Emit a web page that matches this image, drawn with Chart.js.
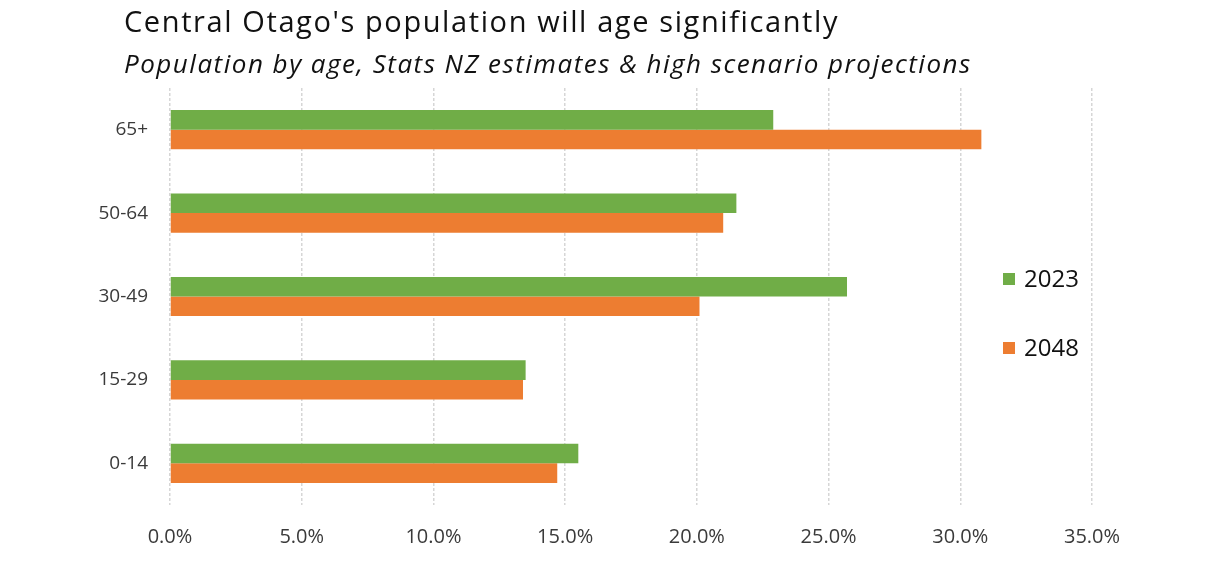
<!DOCTYPE html>
<html>
<head>
<meta charset="utf-8">
<script src="https://cdn.jsdelivr.net/npm/chart.js@4.4.0/dist/chart.umd.min.js"></script>
<style>
  html, body { margin: 0; padding: 0; background: #fff; }
  #wrap { width: 1213px; height: 562px; position: relative; }
</style>
</head>
<body>
<div id="wrap"><canvas id="barChart" width="1213" height="562"></canvas></div>
<script>
// Age groups, top to bottom as in the chart
const ageGroups = ['65+', '50-64', '30-49', '15-29', '0-14'];

// Share of population (%)
const pop2023 = [22.9, 21.5, 25.7, 13.5, 15.5];
const pop2048 = [30.8, 21.0, 20.1, 13.4, 14.7];

// x-axis tick range
const xMin = 0;
const xMax = 35;
const xStep = 5;

const titleText = "Central Otago's population will age significantly";
const subtitleText = 'Population by age, Stats NZ estimates & high scenario projections';

const GREEN = '#70AD47';
const ORANGE = '#ED7D31';
const FONT = "'Open Sans', sans-serif";

// Title, subtitle and the legend sit inside the plot like Excel does it
const overlayPlugin = {
    id: 'overlay',
    afterDraw(chart) {
        const ctx = chart.ctx;
        ctx.save();
        ctx.fillStyle = '#111';
        ctx.textBaseline = 'alphabetic';
        ctx.textAlign = 'left';
        ctx.letterSpacing = '1.6px';
        ctx.font = '29px ' + FONT;
        ctx.fillText(titleText, 124, 32);
        ctx.letterSpacing = '1.5px';
        ctx.font = 'italic 26px ' + FONT;
        ctx.fillText(subtitleText, 124, 73);
        ctx.letterSpacing = '0px';

        // legend
        const items = chart.data.datasets;
        const lx = 1003, ly = [279, 348];
        ctx.font = '24px ' + FONT;
        ctx.textBaseline = 'middle';
        items.forEach((ds, i) => {
            ctx.fillStyle = ds.backgroundColor;
            ctx.fillRect(lx, ly[i] - 6, 12, 12);
            ctx.fillStyle = '#111';
            ctx.fillText(ds.label, lx + 21, ly[i] + 1);
        });
        ctx.restore();
    }
};

const ctxBar = document.getElementById('barChart').getContext('2d');
const barChart = new Chart(ctxBar, {
    type: 'bar',
    data: {
        labels: ageGroups,
        datasets: [
            { label: '2023', data: pop2023, backgroundColor: GREEN },
            { label: '2048', data: pop2048, backgroundColor: ORANGE }
        ]
    },
    options: {
        indexAxis: 'y',
        responsive: false,
        animation: false,
        layout: {
            padding: { top: 88, left: 0, right: 121, bottom: 15 }
        },
        datasets: {
            bar: { categoryPercentage: 0.47, barPercentage: 1.0 }
        },
        plugins: {
            legend: { display: false },
            tooltip: { enabled: false }
        },
        scales: {
            x: {
                min: xMin,
                max: xMax,
                afterFit(scale) { scale.height = 42; },
                ticks: {
                    stepSize: xStep,
                    padding: 20,
                    color: '#3a3a3a',
                    font: { family: FONT, size: 20 },
                    callback: v => v.toFixed(1) + '%'
                },
                grid: {
                    color: '#d6d6d6',
                    lineWidth: 1.5,
                    drawTicks: false
                },
                border: { display: false, dash: [3, 2] }
            },
            y: {
                afterFit(scale) { scale.width = 170; },
                ticks: {
                    padding: 22,
                    color: '#3a3a3a',
                    font: { family: FONT, size: 19 }
                },
                grid: { display: false, drawTicks: false },
                border: { display: false }
            }
        }
    },
    plugins: [overlayPlugin]
});
</script>
</body>
</html>
